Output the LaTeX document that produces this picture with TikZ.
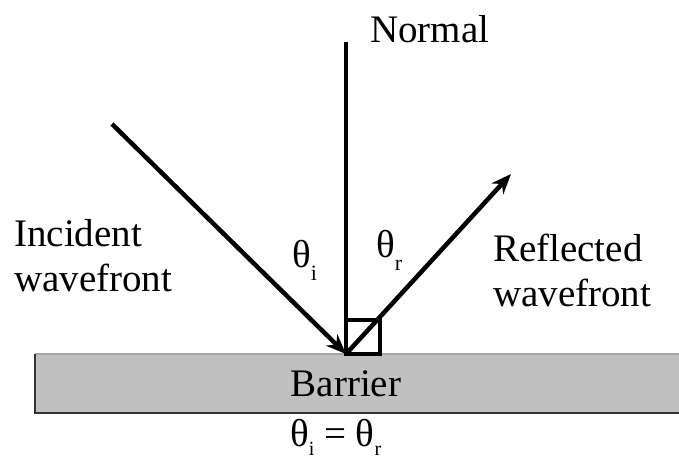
\documentclass[tikz,border=0pt]{standalone}
\usepackage{fontspec}
\setmainfont{Liberation Serif}
\usetikzlibrary{arrows.meta,positioning}

\definecolor{barrierfill}{RGB}{192,192,192}
\newcommand{\angsub}[1]{θ\raisebox{-0.34em}{\fontsize{22}{22}\selectfont #1}}
\newcommand{\lawsub}[1]{θ\raisebox{-0.24em}{\fontsize{20}{20}\selectfont #1}}

\begin{document}
\begin{tikzpicture}[x=1pt, y=-1pt, every node/.style={font=\fontsize{39}{45}\selectfont, inner sep=0pt}, ray/.style={line width=4.5pt}, arr/.style={ray, -{Stealth[length=20pt, width=16pt]}}]
\useasboundingbox (0,0) rectangle (679,462);
% barrier
\node[fill=barrierfill, minimum width=660pt, minimum height=59pt, anchor=north west] (barrier) at (35,354) {};
\draw[gray!70, line width=1.5pt] (barrier.north west) -- (barrier.north east);
\draw[black!80, line width=2pt] (barrier.north west) -- (barrier.south west) -- (barrier.south east);
\node (barriertext) at (346,384) {Barrier};
% rays
\coordinate (foot) at (346,354);
\coordinate (ntop) at (346,42);
\coordinate (src) at (112,124);
\coordinate (tip) at (511,174);
\draw[ray] (ntop) -- (foot);
\draw[arr] (src) -- (foot);
\draw[arr] (foot) -- (tip);
\draw[line width=4pt] (foot) rectangle ++(34,-34);
% labels
\node[anchor=base west] (normal) at (370,43) {Normal};
\node[anchor=north west, align=left] (incident) at (14,219) {Incident\\wavefront};
\node[anchor=north west, align=left] (reflected) at (493,234) {Reflected\\wavefront};
\node[anchor=base west] (thi) at (292,267) {\angsub{i}};
\node[anchor=base west] (thr) at (376,257) {\angsub{r}};
\node[anchor=base west] (law) at (290,446) {\lawsub{i} = \lawsub{r}};
\end{tikzpicture}
\end{document}
